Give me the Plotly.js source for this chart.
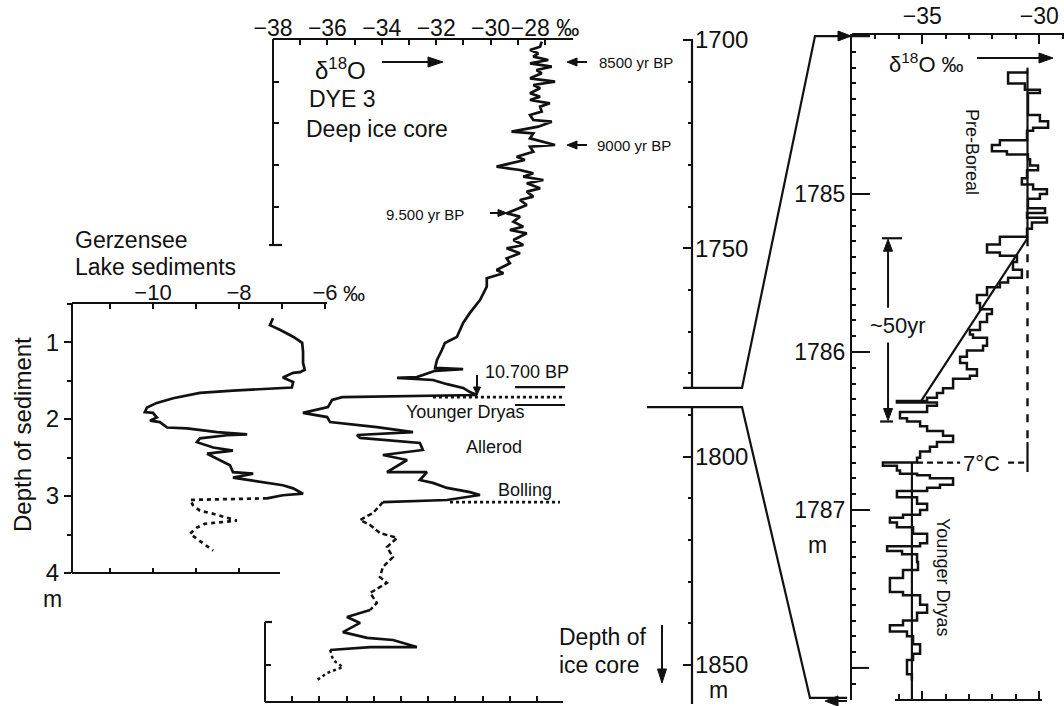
<!DOCTYPE html>
<html>
<head>
<meta charset="utf-8">
<script src="https://cdn.plot.ly/plotly-3.0.1.min.js"></script>
<style>html,body{margin:0;padding:0;background:#fff}#chart{width:1064px;height:706px}</style>
</head>
<body>
<div id="chart"></div>
<script>
// ---------------- DATA ----------------
// DYE 3 deep ice core: depth (m) and δ18O (‰)
const dyeDepthA = [1700.4,1701.6,1702.4,1703.2,1704.0,1704.8,1705.6,1706.4,1707.2,1708.0,
  1709.2,1710.0,1710.8,1711.6,1712.8,1713.6,1714.4,1715.2,1716.0,1717.2,
  1718.0,1719.2,1719.6,1720.8,1722.0,1722.4,1723.6,1724.4,1725.2,1725.6,
  1726.8,1728.0,1728.8,1730.4,1731.2,1732.0,1732.8,1733.6,1734.4,1735.6,
  1736.4,1737.6,1738.4,1739.6,1741.6,1742.4,1743.6,1744.8,1745.6,1746.4,
  1748.0,1749.2,1750.0,1751.2,1752.4,1753.6,1755.2,1756.0,1757.2,1759.2,
  1760.8,1762.4,1765.5,1767.9,1771.3,1772.7,1774.4,1776.8,1778.7,1779.0,
  1779.4,1780.9,1781.1,1781.6,1782.6,1783.5,1784.5,1785.2,1785.7,1786.4,
  1788.1,1789.5,1790.5,1791.7,1792.9,1794.1,1794.8,1795.5,1796.7,1798.4,
  1799.6,1800.8,1803.7,1803.7,1805.6,1806.3,1807.5,1808.5,1809.2,1810.4,1810.9];
const dyeD18OA = [-28.12,-28.18,-28.55,-28.25,-28.43,-27.88,-28.55,-27.75,-28.31,-28.12,
  -28.55,-27.63,-28.43,-28.18,-28.55,-28.18,-28.55,-27.82,-28.18,-28.12,
  -28.55,-28.43,-27.75,-28.25,-29.23,-28.43,-28.55,-28.12,-27.63,-28.55,
  -28.43,-29.04,-28.74,-29.78,-28.92,-28.43,-28.80,-28.06,-28.67,-28.18,
  -28.67,-28.43,-28.92,-28.67,-29.41,-28.92,-29.16,-28.80,-29.29,-28.67,
  -29.16,-28.80,-29.41,-28.92,-29.41,-29.29,-29.78,-29.53,-30.14,-30.14,
  -30.27,-30.39,-30.76,-31.01,-31.24,-31.68,-31.79,-31.97,-32.04,-31.01,
  -32.04,-32.71,-33.44,-32.12,-31.60,-31.01,-30.76,-30.50,-35.46,-35.83,
  -35.98,-36.90,-36.01,-35.90,-34.18,-32.85,-34.91,-34.80,-32.60,-32.49,
  -33.96,-33.07,-33.81,-32.34,-32.60,-32.12,-31.60,-30.76,-30.39,-31.60,-33.96];
const dyeDepthB = [1810.9,1812.1,1813.5,1815.2,1816.4,1818.3,1819.5,1821.7,1824.1,1826.5,1828.9,1830.3,1832.7,1835.1,1836.8];
const dyeD18OB  = [-33.96,-34.14,-34.32,-34.80,-34.43,-34.07,-33.44,-33.81,-33.59,-33.96,-34.07,-33.81,-34.43,-34.18,-34.43];
const dyeDepthC = [1836.8,1838.5,1839.9,1842.1,1843.5,1844.0,1845.7,1845.7,1846.4];
const dyeD18OC  = [-34.43,-35.28,-34.80,-35.43,-34.54,-33.59,-32.71,-34.43,-35.90];
const dyeDepthD = [1846.4,1848.8,1850.5,1851.9,1853.6];
const dyeD18OD  = [-35.90,-35.79,-35.43,-36.01,-36.38];

// DYE 3 marker lines
const zoomMarkDepths = [1783.3, 1787.6];
const zoomMarkSpan   = [-29.10, -27.26];
const bp10700Depth   = 1785.7;
const bp10700Span    = [-32.12, -27.34];
const bollingDepth   = 1810.9;
const bollingSpan    = [-31.49, -27.45];

// Gerzensee lake sediments: depth (m) and δ18O (‰)
const gerDepthA = [0.69,0.78,0.84,0.93,1.01,1.13,1.27,1.36,1.39,1.40,1.46,1.52,1.59,1.60,1.63,1.66,1.73,1.79,1.85,1.91,
  1.92,1.98,2.02,2.04,2.11,2.12,2.17,2.20,2.21,2.25,2.30,2.37,2.41,2.45,2.54,2.60,2.69,2.71,2.76,2.80,
  2.82,2.86,2.90,2.97,2.99,3.03];
const gerD18OA = [-7.21,-7.28,-7.05,-6.74,-6.53,-6.51,-6.51,-6.47,-6.58,-6.74,-6.98,-6.74,-6.77,-7.21,-8.14,-8.91,-9.53,-9.91,-10.14,-10.19,
  -10.00,-9.91,-10.07,-9.84,-9.67,-9.21,-8.51,-7.81,-8.28,-8.91,-8.98,-8.60,-8.14,-8.74,-8.44,-8.21,-8.14,-7.67,-8.14,-7.67,
  -7.35,-6.98,-6.74,-6.51,-6.98,-7.35];
const gerDepthB = [3.03,3.05,3.12,3.19,3.23,3.32,3.36,3.41,3.49,3.58,3.71];
const gerD18OB  = [-7.35,-9.14,-9.07,-8.91,-8.60,-8.05,-8.79,-8.98,-9.14,-8.91,-8.60];

// Detail 1784–1788 m (step data: depth where a value starts, δ18O ‰)
const detDepth = [1784.22,1784.23,1784.30,1784.34,1784.36,1784.50,1784.54,1784.58,1784.60,1784.66,
  1784.69,1784.73,1784.75,1784.78,1784.82,1784.85,1784.90,1784.94,1784.97,1785.00,
  1785.03,1785.09,1785.12,1785.15,1785.18,1785.22,1785.27,1785.32,1785.37,1785.39,
  1785.43,1785.48,1785.53,1785.56,1785.59,1785.64,1785.69,1785.73,1785.76,1785.81,
  1785.86,1785.89,1785.91,1785.96,1785.99,1786.03,1786.07,1786.11,1786.15,1786.17,
  1786.23,1786.26,1786.29,1786.31,1786.32,1786.34,1786.38,1786.42,1786.44,1786.47,
  1786.50,1786.53,1786.57,1786.60,1786.63,1786.67,1786.70,1786.72,1786.75,1786.77,
  1786.78,1786.80,1786.84,1786.86,1786.88,1786.92,1786.96,1787.00,1787.03,1787.05,
  1787.08,1787.11,1787.15,1787.21,1787.23,1787.26,1787.28,1787.33,1787.38,1787.43,
  1787.52,1787.54,1787.60,1787.65,1787.70,1787.73,1787.77,1787.80,1787.85,1787.91,
  1787.95,1788.04,1788.08];
const detD18O = [-30.52,-31.33,-30.61,-29.97,-30.48,-29.97,-29.62,-30.26,-30.52,-31.68,
  -32.02,-31.38,-30.48,-30.39,-30.05,-30.52,-30.74,-30.26,-29.67,-29.97,
  -30.48,-29.75,-30.52,-29.67,-30.31,-30.52,-31.68,-32.23,-31.68,-30.95,
  -31.12,-30.74,-31.33,-31.68,-32.23,-32.66,-32.53,-32.02,-32.23,-32.53,
  -32.96,-32.83,-32.23,-32.40,-33.09,-33.38,-33.09,-32.66,-32.96,-33.68,
  -34.11,-34.37,-34.79,-36.08,-34.37,-34.79,-35.95,-35.65,-35.09,-34.79,
  -34.11,-33.68,-34.37,-34.67,-35.09,-35.22,-36.68,-36.08,-35.95,-35.22,
  -34.67,-33.68,-34.24,-34.79,-36.08,-35.22,-34.79,-35.09,-35.82,-36.38,
  -36.08,-35.39,-34.79,-35.09,-36.50,-35.86,-35.22,-35.18,-35.82,-36.38,
  -35.82,-35.09,-34.79,-35.22,-35.82,-36.38,-35.65,-35.39,-35.09,-35.39,
  -35.65,-35.44,-35.44];
// Detail reference levels
const pbMean = -30.50;          // Pre-Boreal mean δ18O
const pbTopDepth = 1784.20, pbEndDepth = 1785.28;
const trendEnd = [-35.09, 1786.32];
const ydMean = -35.44;          // Younger Dryas mean δ18O
const stepDepth = 1786.70;      // 7°C level
const ydEndDepth = 1788.20;
const bracket50yr = [1785.28, 1786.44];

// Tick labels
const dyeTicks = [-38,-36,-34,-32,-30,-28];
const dyeTickText = ['\u221238','\u221236','\u221234','\u221232','\u221230','\u221228 \u2030'];
const depthTicks = [1700,1750,1800,1850];
const detTicks = [1785,1786,1787];
const detXTicks = [-35,-30];
const detXTickText = ['\u221235','\u221230'];
const gerXTicks = [-10,-8,-6];
const gerXTickText = ['\u221210','\u22128','\u22126'];
const gerYTicks = [1,2,3,4];

// ---------------- LAYOUT HELPERS ----------------
const W = 1064, H = 706;
const P = v => v / W;
const Q = v => 1 - v / H;
const FONT = 'Liberation Sans, Arial, Helvetica, sans-serif';
const K = '#111';
function toPaper(ax, v){ const [r0,r1]=ax.range,[d0,d1]=ax.domain; return d0+(v-r0)/(r1-r0)*(d1-d0); }

const base = {showgrid:false, zeroline:false, linecolor:K, linewidth:2, tickcolor:K, tickwidth:2, tickangle:0,
  tickfont:{family:FONT,size:22,color:K}, anchor:'free', fixedrange:true};

const xDye = Object.assign({}, base, {domain:[P(273),P(573)], range:[-38,-26.97], position:Q(39), side:'top',
  showline:true, ticks:'inside', ticklen:5, tickmode:'array', tickvals:dyeTicks, ticktext:dyeTickText,
  tickfont:{family:FONT,size:23,color:K}, ticklabelstandoff:-7,
  minor:{dtick:1, tick0:-38, ticks:'inside', ticklen:5, tickwidth:2, tickcolor:K}});
const yDepth = Object.assign({}, base, {domain:[Q(702),Q(35)], range:[1858.88,1698.8], position:P(692), side:'right',
  showline:false, ticks:'inside', ticklen:9, tickmode:'array', tickvals:depthTicks, ticktext:depthTicks.map(String),
  tickfont:{family:FONT,size:24,color:K}, ticklabelstandoff:2,
  minor:{dtick:10, tick0:1700, ticks:'inside', ticklen:4, tickwidth:2, tickcolor:K}});
const xDyeBot = Object.assign({}, base, {domain:[P(265),P(563)], range:[-38,-27.04], position:Q(702), side:'bottom',
  showline:true, ticks:'inside', ticklen:5, dtick:1, tick0:-38, showticklabels:false});
const yBrUp = Object.assign({}, base, {domain:[Q(245),Q(39)], range:[1749.2,1699.76], position:P(273), side:'left',
  showline:true, ticks:'inside', ticklen:5, tickmode:'array', tickvals:[1710,1720,1730,1740], showticklabels:false});
const yBrLo = Object.assign({}, base, {domain:[Q(702),Q(622)], range:[1858.88,1839.68], position:P(265), side:'left',
  showline:true, ticks:'inside', ticklen:5, tickmode:'array', tickvals:[1850], showticklabels:false});
const xDet = Object.assign({}, base, {domain:[P(852),P(1064)], range:[-38,-28.94], position:Q(34), side:'top',
  showline:true, ticks:'inside', ticklen:9, tickmode:'array', tickvals:detXTicks, ticktext:detXTickText,
  tickfont:{family:FONT,size:23,color:K},
  minor:{dtick:1, tick0:-38, ticks:'inside', ticklen:4, tickwidth:2, tickcolor:K}});
const yDet = Object.assign({}, base, {domain:[Q(700),Q(34)], range:[1788.203,1783.987], position:P(851), side:'left',
  showline:true, ticks:'inside', ticklen:18, tickmode:'array', tickvals:detTicks, ticktext:detTicks.map(String),
  tickfont:{family:FONT,size:23,color:K},
  minor:{dtick:0.1, tick0:1784, ticks:'inside', ticklen:4, tickwidth:2, tickcolor:K}});
const xDetBot = Object.assign({}, base, {domain:[P(895),P(1042)], range:[-36.162,-29.88], position:Q(700), side:'bottom',
  showline:true, ticks:'inside', ticklen:8, dtick:5, tick0:-35, showticklabels:false,
  minor:{dtick:1, tick0:-38, ticks:'inside', ticklen:5, tickwidth:2, tickcolor:K}});
const xGer = Object.assign({}, base, {domain:[P(72),P(327)], range:[-11.884,-5.953], position:Q(303), side:'top',
  showline:true, ticks:'inside', ticklen:5, tickmode:'array', tickvals:gerXTicks, ticktext:gerXTickText,
  tickfont:{family:FONT,size:22,color:K}, ticklabelstandoff:-7,
  minor:{dtick:1, tick0:-12, ticks:'inside', ticklen:5, tickwidth:2, tickcolor:K}});
const yGer = Object.assign({}, base, {domain:[Q(573),Q(303)], range:[4.0,0.492], position:P(72), side:'left',
  showline:true, ticks:'outside', ticklen:7, tickmode:'array', tickvals:gerYTicks, ticktext:gerYTicks.map(String),
  tickfont:{family:FONT,size:24,color:K},
  minor:{dtick:0.5, tick0:0.5, ticks:'outside', ticklen:4, tickwidth:2, tickcolor:K}});
const xGerBot = Object.assign({}, base, {domain:[P(72),P(280)], range:[-11.884,-7.047], position:Q(573), side:'bottom',
  showline:true, ticks:'inside', ticklen:4, dtick:1, tick0:-12, showticklabels:false});

// ---------------- TRACES ----------------
const L = (w, dash) => ({color:K, width:w, dash:dash||'solid'});
function seg(xs, ys, xa, ya, line){ return {type:'scatter', mode:'lines', x:xs, y:ys, xaxis:xa, yaxis:ya, line:line, hoverinfo:'skip'}; }
function hlines(depths, span){ const x=[],y=[]; depths.forEach(d=>{x.push(span[0],span[1],null); y.push(d,d,null);}); return [x,y]; }

const zm = hlines(zoomMarkDepths, zoomMarkSpan);
const b107 = hlines([bp10700Depth], bp10700Span);
const bol = hlines([bollingDepth], bollingSpan);

const traces = [
  seg(dyeD18OA, dyeDepthA, 'x', 'y', L(2.7)),
  seg(dyeD18OB, dyeDepthB, 'x', 'y', L(2.5,'5px,3px')),
  seg(dyeD18OC, dyeDepthC, 'x', 'y', L(2.7)),
  seg(dyeD18OD, dyeDepthD, 'x', 'y', L(2.5,'dot')),
  seg(zm[0], zm[1], 'x', 'y', L(2.2)),
  seg(b107[0], b107[1], 'x', 'y', L(2.6,'dot')),
  seg(bol[0], bol[1], 'x', 'y', L(2.6,'dot')),
  seg(gerD18OA, gerDepthA, 'x5', 'y5', L(2.7)),
  seg(gerD18OB, gerDepthB, 'x5', 'y5', L(2.7,'4px,4px')),
  seg(detD18O, detDepth, 'x3', 'y4', {color:K, width:2.5, shape:'vh'}),
  seg([pbMean,pbMean], [pbTopDepth,pbEndDepth], 'x3', 'y4', L(2.2)),
  seg([pbMean,trendEnd[0]], [pbEndDepth,trendEnd[1]], 'x3', 'y4', L(2.2)),
  seg([ydMean,ydMean], [stepDepth,ydEndDepth], 'x3', 'y4', L(2.2)),
  seg([pbMean,pbMean], [pbEndDepth,stepDepth-0.13], 'x3', 'y4', L(2.4,'8px,8px')),
  seg([pbMean,pbMean], [stepDepth-0.13,stepDepth+0.06], 'x3', 'y4', L(2.2)),
  seg([ydMean+0.22,-33.38,null,-31.33,pbMean], [stepDepth,stepDepth,null,stepDepth,stepDepth], 'x3', 'y4', L(2.2,'6px,4px')),
  // axis-only subplots
  seg([], [], 'x2', 'y2', L(1)), seg([], [], 'x2', 'y3', L(1)),
  seg([], [], 'x4', 'y4', L(1)), seg([], [], 'x6', 'y5', L(1))
];

// ---------------- SHAPES ----------------
const Ym = d => toPaper(yDepth, d);
const Yd = d => toPaper(yDet, d);
const zoomMain = [1783.5, 1788.1];
const zoomDet = [1784.0, 1788.19];
const ln = {color:K, width:2.2};
const shapes = [
  {type:'line', xref:'paper', yref:'paper', x0:P(692), x1:P(692), y0:Q(39), y1:Ym(zoomMain[0]), line:ln},
  {type:'line', xref:'paper', yref:'paper', x0:P(692), x1:P(692), y0:Ym(zoomMain[1]), y1:Q(704), line:ln},
  {type:'path', xref:'paper', yref:'paper', line:ln,
    path:`M ${P(683)},${Ym(zoomMain[0])} L ${P(742)},${Ym(zoomMain[0])} L ${P(815)},${Yd(zoomDet[0])} L ${P(870)},${Yd(zoomDet[0])}`},
  {type:'path', xref:'paper', yref:'paper', line:ln,
    path:`M ${P(647)},${Ym(zoomMain[1])} L ${P(742)},${Ym(zoomMain[1])} L ${P(810)},${Yd(zoomDet[1])} L ${P(847)},${Yd(zoomDet[1])}`},
  {type:'line', xref:'paper', yref:'paper', x0:P(269), x1:P(282), y0:Q(245), y1:Q(245), line:ln},
  {type:'line', xref:'paper', yref:'paper', x0:P(265), x1:P(272), y0:Q(622), y1:Q(622), line:ln},
  {type:'line', xref:'paper', yref:'y4', x0:P(851), x1:P(869), y0:1788, y1:1788, line:{color:K,width:2}},
  {type:'line', xref:'x3', yref:'y4', x0:-36.72, x1:-35.86, y0:bracket50yr[0], y1:bracket50yr[0], line:ln},
  {type:'line', xref:'x3', yref:'y4', x0:-36.80, x1:-36.25, y0:bracket50yr[1], y1:bracket50yr[1], line:ln}
];
// arrows drawn as shapes (pixel positions → paper)
function arrow(x0, y0, x1, y1, hl, hw){
  hl = hl || 12; hw = hw || 5;
  const dx = x1-x0, dy = y1-y0, len = Math.hypot(dx,dy), ux = dx/len, uy = dy/len;
  const bx = x1-ux*hl, by = y1-uy*hl, nx = -uy, ny = ux;
  shapes.push({type:'line', xref:'paper', yref:'paper', x0:P(x0), y0:Q(y0), x1:P(bx), y1:Q(by), line:{color:K,width:2}});
  shapes.push({type:'path', xref:'paper', yref:'paper', fillcolor:K, line:{color:K,width:1},
    path:`M ${P(x1)},${Q(y1)} L ${P(bx+nx*hw)},${Q(by+ny*hw)} L ${P(bx-nx*hw)},${Q(by-ny*hw)} Z`});
}
arrow(382, 62, 443, 62, 15, 5);
arrow(587, 62, 567, 62, 10, 4);
arrow(587, 145, 567, 145, 10, 4);
arrow(490, 213, 507, 213, 9, 3.5);
arrow(477, 375, 477, 395, 8, 3.5);
arrow(662, 625, 662, 683, 14, 4.5);
arrow(977, 58, 1053, 58, 14, 5);
arrow(830, 36, 851, 36, 13, 5);
arrow(847, 701, 825, 701, 13, 5);
const bx50 = toPaper(xDet, -36.46) * W;
const yPx = d => (1 - toPaper(yDet, d)) * H;
arrow(bx50, yPx(1785.72), bx50, yPx(bracket50yr[0]) + 1, 12, 4.5);
arrow(bx50, yPx(1785.94), bx50, yPx(bracket50yr[1]) - 1, 12, 4.5);

// ---------------- ANNOTATIONS ----------------
function T(text, x, y, size, extra){ return Object.assign({text:text, xref:'paper', yref:'paper', x:P(x), y:Q(y), showarrow:false,
  xanchor:'center', yanchor:'middle', font:{family:FONT, size:size, color:K}}, extra||{}); }
const annotations = [
  T('\u03b4<sup>18</sup>O', 340, 69, 24),
  T('DYE 3', 342, 99, 23),
  T('Deep ice core', 377, 129, 23),
  T('8500 yr BP', 597, 62, 15, {xanchor:'left'}),
  T('9000 yr BP', 595, 145, 15, {xanchor:'left'}),
  T('9.500 yr BP', 425, 214, 15),
  T('Gerzensee', 73, 240, 23, {xanchor:'left'}),
  T('Lake sediments', 73, 267, 23, {xanchor:'left'}),
  T('Depth of sediment', 22, 435, 24, {textangle:-90}),
  T('m', 52, 599, 23),
  T('\u2030', 354, 293, 22),
  T('10.700 BP', 483, 372, 18, {xanchor:'left'}),
  T('Younger Dryas', 465, 412, 18),
  T('Allerod', 494, 447, 18),
  T('Bolling', 525, 490, 18),
  T('Depth of', 557, 637, 23, {xanchor:'left'}),
  T('ice core', 557, 665, 23, {xanchor:'left'}),
  T('m', 718, 690, 23),
  T('\u03b4<sup>18</sup>O \u2030', 926, 63, 22),
  T('Pre-Boreal', 972, 152, 18, {textangle:90}),
  T('~50yr', 898, 325, 22),
  T('7\u00b0C', 981, 463, 22),
  T('Younger Dryas', 943, 577, 18, {textangle:90}),
  T('m', 817, 545, 23)
];

const layout = {
  width:W, height:H, margin:{l:0,r:0,t:0,b:0}, autosize:false,
  paper_bgcolor:'#fff', plot_bgcolor:'rgba(0,0,0,0)', showlegend:false, hovermode:false,
  font:{family:FONT, color:K},
  xaxis:xDye, yaxis:yDepth, xaxis2:xDyeBot, yaxis2:yBrUp, yaxis3:yBrLo,
  xaxis3:xDet, yaxis4:yDet, xaxis4:xDetBot, xaxis5:xGer, yaxis5:yGer, xaxis6:xGerBot,
  shapes:shapes, annotations:annotations
};
Plotly.newPlot('chart', traces, layout, {staticPlot:true, displayModeBar:false});
</script>
</body>
</html>
